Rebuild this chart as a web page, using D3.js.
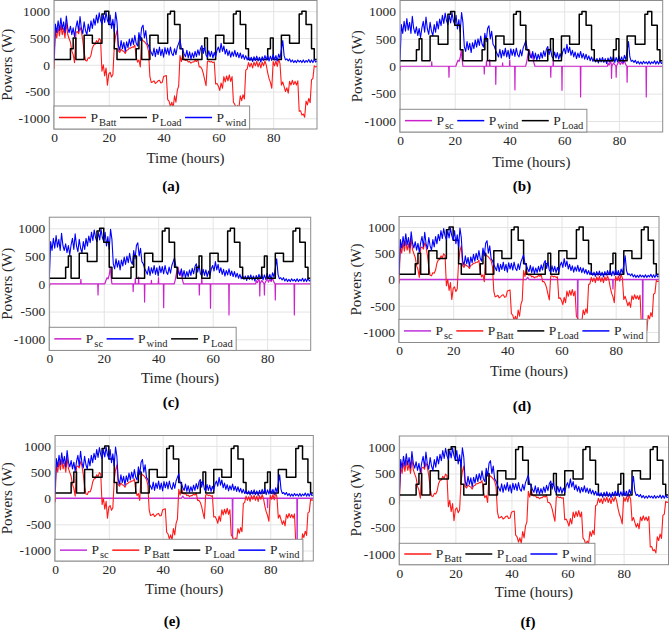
<!DOCTYPE html>
<html><head><meta charset="utf-8">
<script src="https://cdn.jsdelivr.net/npm/d3@7"></script>
<style>body{margin:0;background:#fff}svg{display:block}</style>
</head><body>
<svg id="chart" width="669" height="631"></svg>
<script>
// ---------------- DATA ----------------
const sampleStepHours = 0.5;           // spacing of the wind / battery samples
const xDomain = [0, 96];
const yDomain = [-1200, 1200];
const xTicks = [0, 20, 40, 60, 80];
const yTicks = [-1000, -500, 0, 500, 1000];

// Wind power (W), one value every 0.5 h from 0 to 96 h
const pWind = [
  80,760,600,820,640,870,660,800,600,910,690,600,  720,560,690,520,700,820,620,900,680,580,800,640,
  560,760,620,820,680,860,740,930,780,970,830,760,  930,790,980,830,760,930,680,850,620,980,800,360,
  270,450,300,420,250,430,320,480,350,500,380,550,  400,350,600,450,690,740,500,640,400,360,280,230,
  170,310,150,290,190,330,170,290,140,320,200,310,  180,330,210,170,300,190,330,400,470,300,280,200,
  150,270,130,240,110,220,130,250,150,280,180,310,  360,210,330,180,140,260,150,250,130,230,150,270,
  330,230,400,250,350,200,290,170,260,140,240,160,  270,150,230,130,220,120,190,100,170,90,150,80,
  140,60,150,80,160,70,140,50,150,80,170,90,  180,70,160,80,190,90,170,70,200,120,280,450,
  170,90,110,70,110,50,90,40,80,40,90,50,  80,40,90,40,80,50,100,40,90,40,100,50,70
];

// Battery power (W), one value every 0.5 h from 0 to 96 h
const pBatt = [
  -80,640,500,700,540,740,560,680,500,780,570,490,  420,260,190,40,600,620,580,700,620,460,230,80,
  70,130,120,180,310,370,380,450,410,490,460,-120,  0,-210,-60,-380,-170,-140,-230,-180,340,540,640,260,
  230,290,260,250,210,270,280,310,310,330,330,370,  150,50,90,-40,480,450,430,400,360,250,-220,-330,
  -320,-300,-350,-330,-300,-290,-340,-330,-220,-210,-200,-650,  -680,-780,-700,-800,-580,-700,-480,-400,170,60,200,100,
  80,90,50,60,30,50,50,80,60,100,-40,-40,  -80,-160,-280,-390,60,70,50,60,40,50,-360,-350,
  -400,-480,-340,-440,-220,-320,-210,-300,-190,-310,-220,-700,  -740,-820,-760,-810,-580,-670,-560,-640,-100,-80,40,-40,
  30,-60,50,-20,60,-40,40,-60,50,-20,70,-10,  -150,-260,-330,-440,60,-20,70,-30,100,20,-380,-320,
  -410,-500,-430,-530,-310,-380,-290,-370,-310,-380,-300,-870,  -860,-940,-920,-980,-680,-750,-630,-710,-280,-260,-20,-40,-30
];

// Load power: [hour where the step starts, W]
const pLoadSteps = [
  [0,100],[6,300],[7,500],[8,100],[11,550],[14,400],[17.5,950],[18.5,1000],[20,750],[22,300],[23,100],
  [30,300],[31,500],[32,100],[35,550],[38,400],[41.5,950],[42.5,1000],[44,750],[46,300],[47,100],
  [54,300],[55,500],[56,100],[59,550],[62,400],[65.5,950],[66.5,1000],[68,750],[70,300],[71,100],
  [78,300],[79,500],[80,100],[83,550],[86,400],[89.5,950],[90.5,1000],[92,750],[94,300],[95,100],[96,100]
];

// Supercapacitor power for panels (b),(c): [hour, W]
const pScSpikes = [
  [0,-80],[0.2,0],[11.5,0],[11.6,80],[11.7,0],[17.8,0],[17.9,-200],[18.0,0],
  [20.4,0],[20.8,60],[21.2,110],[21.6,90],[22.0,160],[22.4,300],[22.7,120],[23.0,0],
  [30.7,0],[30.8,-140],[30.9,0],[31.5,0],[31.6,100],[31.7,0],[32.7,0],[32.8,120],[32.9,0],
  [34.9,0],[35.0,-330],[35.1,0],[37.4,0],[37.5,60],[37.6,0],[40.0,0],[40.1,110],[40.2,0],
  [41.9,0],[42.0,-430],[42.1,0],[45.9,0],[46.3,80],[46.8,220],[47.3,300],[47.8,160],[48.3,230],[48.8,90],[49.3,0],
  [55.0,0],[55.1,-200],[55.2,0],[55.9,0],[56.0,110],[56.1,0],[59.1,0],[59.2,-440],[59.3,0],
  [65.9,0],[66.0,-560],[66.1,0],[75.8,0],[76.0,60],[76.4,20],[77.0,90],[77.2,40],[77.3,-220],[77.4,0],
  [78.0,60],[78.9,0],[79.0,-200],[79.1,0],[80.0,90],[80.5,30],[81.0,80],[81.5,40],[82.0,100],[82.5,30],
  [82.9,0],[83.0,-290],[83.1,0],[89.9,0],[90.0,-560],[90.1,0],[96,0]
];

// Supercapacitor power for panels (d),(e): [hour, W]
const pScSmall = [
  [0,-60],[0.2,0],[47.0,0],[47.5,40],[48.0,0],[65.9,0],[66.0,-760],[66.1,0],
  [78.9,0],[79.0,-180],[79.1,0],[89.9,0],[90.0,-960],[90.1,0],[96,0]
];

const panelLetters = ["(a)", "(b)", "(c)", "(d)", "(e)", "(f)"];
const xLabelText = "Time (hours)";
const yLabelText = "Powers (W)";

// ---------------- SERIES ----------------
const windPts = pWind.map((v, i) => ({t: i * sampleStepHours, v}));
const battPts = pBatt.map((v, i) => ({t: i * sampleStepHours, v}));
const loadPts = pLoadSteps.map(d => ({t: d[0], v: d[1]}));
const scSpikePts = pScSpikes.map(d => ({t: d[0], v: d[1]}));
const scSmallPts = pScSmall.map(d => ({t: d[0], v: d[1]}));

const S = {
  batt: {sub: "Batt", color: "#ff1a1a", data: battPts, w: 1.1},
  load: {sub: "Load", color: "#000000", data: loadPts, w: 1.5, step: true},
  wind: {sub: "wind", color: "#0000ff", data: windPts, w: 1.1},
  scB:  {sub: "sc",   color: "#cc22cc", data: scSpikePts, w: 1.2},
  scD:  {sub: "sc",   color: "#c030d8", data: scSmallPts, w: 1.3}
};

// ---------------- LAYOUT ----------------
const panels = [
  {L:54,    R:317,   T:0.5,   B:129,   ylx:7.5,   xlb:162.5, lx:171, lb:191.4, legTop:106,   series:[S.batt,S.load,S.wind]},
  {L:400,   R:662.7, T:0.5,   B:132,   ylx:357.5, xlb:166.5, lx:522, lb:191.4, legTop:109.3, series:[S.scB,S.wind,S.load]},
  {L:49.3,  R:310.7, T:217.2, B:350.4, ylx:7,     xlb:383,   lx:171, lb:407.4, legTop:327.3, series:[S.scB,S.wind,S.load]},
  {L:399,   R:659,   T:216.5, B:342.5, ylx:355.8, xlb:376,   lx:522, lb:411.4, legTop:319.3, series:[S.scD,S.batt,S.load,S.wind]},
  {L:55,    R:313.3, T:435.5, B:561,   ylx:7,     xlb:594,   lx:172, lb:625.7, legTop:539.3, series:[S.scD,S.batt,S.load,S.wind]},
  {L:399.3, R:668.5, T:436,   B:564.7, ylx:355.8, xlb:597.3, lx:528, lb:627.4, legTop:543.3, series:[S.batt,S.load,S.wind]}
];

const FONT = '"Liberation Serif","Times New Roman",serif';
const TXT = "#262626";
const svg = d3.select("#chart");
const defs = svg.append("defs");

panels.forEach((p, k) => {
  const x = d3.scaleLinear().domain(xDomain).range([p.L, p.R]);
  const y = d3.scaleLinear().domain(yDomain).range([p.B, p.T]);
  const g = svg.append("g");

  // grid
  g.append("g").attr("transform", `translate(0,${p.B})`)
    .call(d3.axisBottom(x).tickValues(xTicks).tickSize(-(p.B - p.T)).tickFormat(""))
    .call(a => a.select(".domain").remove())
    .call(a => a.selectAll("line").attr("stroke", "#e4e4e4"));
  g.append("g").attr("transform", `translate(${p.L},0)`)
    .call(d3.axisLeft(y).tickValues(yTicks).tickSize(-(p.R - p.L)).tickFormat(""))
    .call(a => a.select(".domain").remove())
    .call(a => a.selectAll("line").attr("stroke", "#e4e4e4"));

  // data
  const cid = "clip" + k;
  defs.append("clipPath").attr("id", cid).append("rect")
    .attr("x", p.L).attr("y", p.T).attr("width", p.R - p.L).attr("height", p.B - p.T);
  const dg = g.append("g").attr("clip-path", `url(#${cid})`);
  p.series.forEach(s => {
    const line = d3.line().x(d => x(d.t)).y(d => y(d.v))
      .curve(s.step ? d3.curveStepAfter : d3.curveLinear);
    dg.append("path").datum(s.data).attr("d", line)
      .attr("fill", "none").attr("stroke", s.color).attr("stroke-width", s.w)
      .attr("stroke-linejoin", "round");
  });

  // frame
  g.append("rect").attr("x", p.L).attr("y", p.T)
    .attr("width", p.R - p.L).attr("height", p.B - p.T)
    .attr("fill", "none").attr("stroke", "#8c8c8c").attr("stroke-width", 1);

  // tick labels
  const xa = g.append("g").attr("transform", `translate(0,${p.B})`)
    .call(d3.axisBottom(x).tickValues(xTicks).tickSize(0).tickPadding(3.4));
  const ya = g.append("g").attr("transform", `translate(${p.L},0)`)
    .call(d3.axisLeft(y).tickValues(yTicks).tickSize(0).tickPadding(4).tickFormat(d => String(d)));
  [xa, ya].forEach(a => {
    a.select(".domain").remove();
    a.attr("font-family", FONT).attr("font-size", 13.5);
    a.selectAll("text").attr("fill", TXT);
  });

  // legend
  const lg = g.append("g");
  const box = lg.append("rect").attr("x", p.L).attr("y", p.legTop)
    .attr("height", p.B - p.legTop).attr("fill", "#fff")
    .attr("stroke", "#8c8c8c").attr("stroke-width", 1);
  const cy = (p.legTop + p.B) / 2;
  let cx = p.L + 5;
  p.series.forEach(s => {
    lg.append("line").attr("x1", cx).attr("x2", cx + 27).attr("y1", cy).attr("y2", cy)
      .attr("stroke", s.color).attr("stroke-width", 1.5);
    cx += 31.5;
    const t = lg.append("text").attr("x", cx).attr("y", cy + 4)
      .attr("font-family", FONT).attr("font-size", 13.5).attr("fill", TXT);
    t.append("tspan").text("P");
    t.append("tspan").attr("font-size", 10.5).attr("dy", 4).attr("dx", 1).text(s.sub);
    const w = t.node().getComputedTextLength();
    cx += w + 1 + 3.5;
  });
  box.attr("width", cx - p.L);

  // axis titles
  g.append("text").attr("x", (p.L + p.R) / 2).attr("y", p.xlb)
    .attr("text-anchor", "middle").attr("font-family", FONT).attr("font-size", 15)
    .attr("fill", TXT).text(xLabelText);
  g.append("text").attr("transform", `translate(${p.ylx},${(p.T + p.B) / 2}) rotate(-90)`)
    .attr("text-anchor", "middle").attr("dy", "0.33em")
    .attr("font-family", FONT).attr("font-size", 15)
    .attr("fill", TXT).text(yLabelText);

  // panel letter
  g.append("text").attr("x", p.lx).attr("y", p.lb)
    .attr("text-anchor", "middle").attr("font-family", FONT).attr("font-size", 15)
    .attr("font-weight", "bold").attr("fill", "#000").text(panelLetters[k]);
});
</script>
</body></html>
